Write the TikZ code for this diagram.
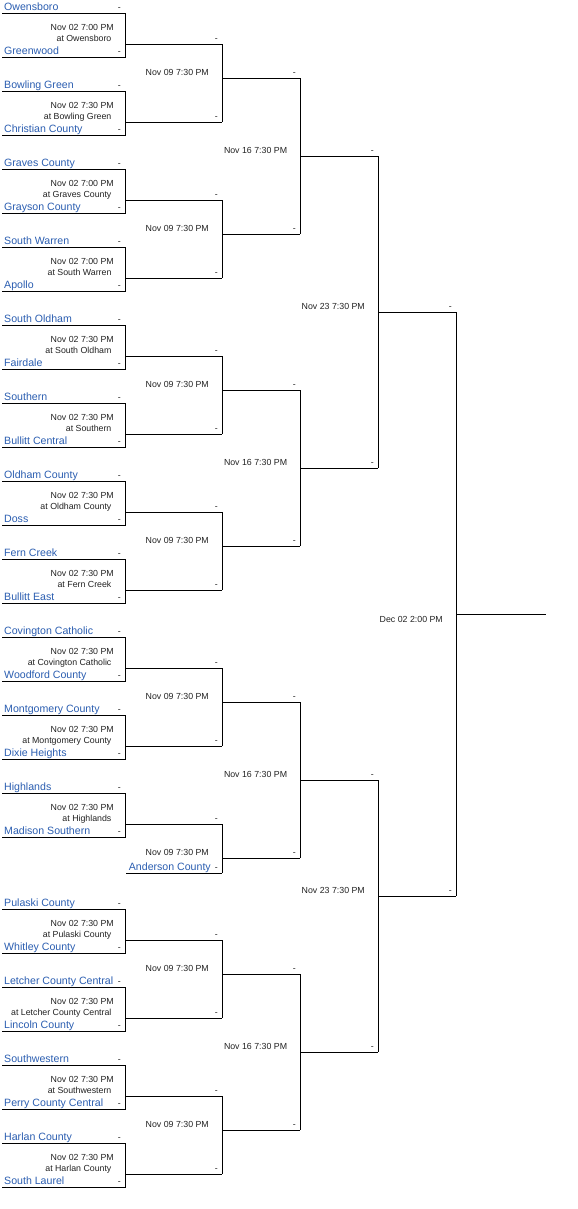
\documentclass[tikz,border=0pt]{standalone}
\usepackage{fontspec}
\setmainfont{Liberation Sans}
\definecolor{teamblue}{HTML}{2A5DB0}
\definecolor{infogray}{HTML}{222222}
\newcommand\teamfnt{\fontsize{10.6bp}{12bp}\selectfont}
\newcommand\infofnt{\fontsize{8.8bp}{10bp}\selectfont}
\begin{document}
\begin{tikzpicture}[x=1bp,y=-1bp,
  br/.style={line width=1bp,black},
  team/.style={anchor=base west,inner sep=0pt,text=teamblue,font=\teamfnt},
  teamr/.style={anchor=base east,inner sep=0pt,text=teamblue,font=\teamfnt},
  score/.style={anchor=base east,inner sep=0pt,text=infogray,font=\infofnt},
  info/.style={anchor=base east,inner sep=0pt,text=infogray,font=\infofnt}]
\useasboundingbox (0,0) rectangle (578,1209);
% first round games
\foreach \i/\T/\A/\B/\gtime/\venue in {
  1/13/Owensboro/Greenwood/7:00/Owensboro,
  2/91/Bowling Green/Christian County/7:30/Bowling Green,
  3/169/Graves County/Grayson County/7:00/Graves County,
  4/247/South Warren/Apollo/7:00/South Warren,
  5/325/South Oldham/Fairdale/7:30/South Oldham,
  6/403/Southern/Bullitt Central/7:30/Southern,
  7/481/Oldham County/Doss/7:30/Oldham County,
  8/559/Fern Creek/Bullitt East/7:30/Fern Creek,
  9/637/Covington Catholic/Woodford County/7:30/Covington Catholic,
  10/715/Montgomery County/Dixie Heights/7:30/Montgomery County,
  11/793/Highlands/Madison Southern/7:30/Highlands,
  12/909/Pulaski County/Whitley County/7:30/Pulaski County,
  13/987/Letcher County Central/Lincoln County/7:30/Letcher County Central,
  14/1065/Southwestern/Perry County Central/7:30/Southwestern,
  15/1143/Harlan County/South Laurel/7:30/Harlan County}{
  \draw[br] (2,\T) -- (125,\T) -- (125,{\T+44}) -- (2,{\T+44});
  \draw[br] (125,{\T+31}) -- (222,{\T+31});
  \node[team] (ta\i) at (4,{\T-2.6}) {\A};
  \node[score] (sa\i) at (121,{\T-2.6}) {-};
  \node[team] (tb\i) at (4,{\T+41.4}) {\B};
  \node[score] (sb\i) at (121,{\T+41.4}) {-};
  \node[info] (d\i) at (114,{\T+17.6}) {Nov 02 \gtime\ PM};
  \node[info] (v\i) at (111.6,{\T+28.6}) {at \venue};
  \node[score] (w\i) at (218,{\T+28.4}) {-};
}
% bye
\draw[br] (126,873) -- (222,873);
\node[teamr] (anderson) at (211,870.4) {Anderson County};
\node[score] (andersonsc) at (218,870.4) {-};
% second round verticals and third round lines
\foreach \j/\a/\b/\c in {1/44/122/78,2/200/278/234,3/356/434/390,4/512/590/546,
  5/668/746/702,6/824/873/858,7/940/1018/974,8/1096/1174/1130}{
  \draw[br] (222,\a) -- (222,\b);
  \draw[br] (222,\c) -- (300,\c);
  \node[info] (r2d\j) at (209,{\c-2.7}) {Nov 09 7:30 PM};
  \node[score] (r2w\j) at (296,{\c-2.6}) {-};
}
% third round verticals and fourth round lines
\foreach \j/\a/\b/\c in {1/78/234/156,2/390/546/468,3/702/858/780,4/974/1130/1052}{
  \draw[br] (300,\a) -- (300,\b);
  \draw[br] (300,\c) -- (378,\c);
  \node[info] (r3d\j) at (287.3,{\c-2.7}) {Nov 16 7:30 PM};
  \node[score] (r3w\j) at (374,{\c-2.6}) {-};
}
% fourth round
\foreach \j/\a/\b/\c in {1/156/468/312,2/780/1052/896}{
  \draw[br] (378,\a) -- (378,\b);
  \draw[br] (378,\c) -- (456,\c);
  \node[info] (r4d\j) at (365,{\c-2.7}) {Nov 23 7:30 PM};
  \node[score] (r4w\j) at (452,{\c-2.6}) {-};
}
% final
\draw[br] (456,312) -- (456,896);
\draw[br] (456,614) -- (546,614);
\node[info] (final) at (443,622) {Dec 02 2:00 PM};
\end{tikzpicture}
\end{document}
